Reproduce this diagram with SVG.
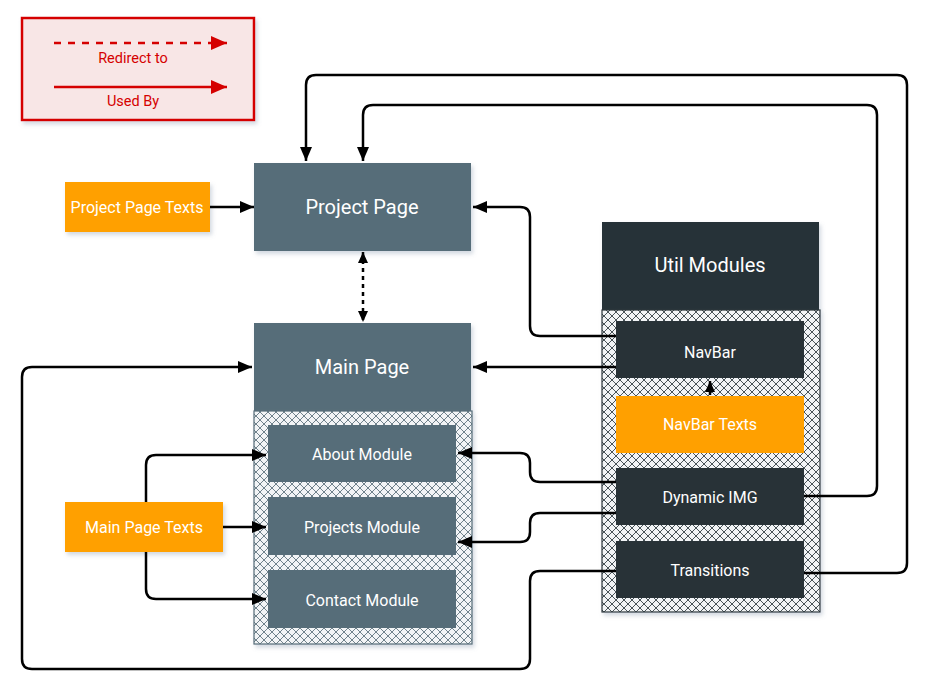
<svg xmlns="http://www.w3.org/2000/svg" width="926" height="689" viewBox="0 0 926 689">
<defs>
<style>
.t{font-family:Roboto,"Liberation Sans",sans-serif;fill:#fff;text-anchor:middle;dominant-baseline:central}
.big{font-size:20px}
.mid{font-size:16px}
.leg{font-family:Roboto,"Liberation Sans",sans-serif;fill:#d50000;font-size:14.5px;text-anchor:middle;dominant-baseline:central}
.slate{fill:#566d79}
.dark{fill:#283237}
.orange{fill:#ffa000}
.c{fill:none;stroke:#000;stroke-width:2.5}
</style>
<filter id="sh" x="-10%" y="-10%" width="130%" height="130%">
<feDropShadow dx="2" dy="3" stdDeviation="2" flood-color="#8090a8" flood-opacity="0.35"/>
</filter>
<pattern id="hs" width="8" height="8" patternUnits="userSpaceOnUse">
<rect width="8" height="8" fill="#f2f4f6"/>
<path d="M0,0 L8,8 M8,0 L0,8" stroke="#6f828c" stroke-width="1"/>
</pattern>
<pattern id="hd" width="8" height="8" patternUnits="userSpaceOnUse">
<rect width="8" height="8" fill="#f2f4f6"/>
<path d="M0,0 L8,8 M8,0 L0,8" stroke="#4a5358" stroke-width="1"/>
</pattern>
<marker id="a" viewBox="0 0 14 12" refX="14" refY="6" markerWidth="14" markerHeight="12" markerUnits="userSpaceOnUse" orient="auto">
<path d="M0,0 L14,6 L0,12 Z" fill="#000"/>
</marker>
<marker id="as" viewBox="0 0 11 10" refX="11" refY="5" markerWidth="11" markerHeight="10" markerUnits="userSpaceOnUse" orient="auto-start-reverse">
<path d="M0,0 L11,5 L0,10 Z" fill="#000"/>
</marker>
<marker id="ar" viewBox="0 0 16 14" refX="16" refY="7" markerWidth="16" markerHeight="14" markerUnits="userSpaceOnUse" orient="auto">
<path d="M0,0 L16,7 L0,14 Z" fill="#d50000"/>
</marker>
</defs>
<rect width="926" height="689" fill="#fff"/>

<g id="legend">
<rect x="22" y="18" width="232" height="102" fill="#f8e6e6" stroke="#d50000" stroke-width="2.5" filter="url(#sh)"/>
<path d="M54,43 H227" stroke="#d50000" stroke-width="2.5" stroke-dasharray="7,7" fill="none" marker-end="url(#ar)"/>
<text class="leg" x="133" y="58">Redirect to</text>
<path d="M54,87 H227" stroke="#d50000" stroke-width="2.5" fill="none" marker-end="url(#ar)"/>
<text class="leg" x="133" y="101">Used By</text>
</g>

<g id="project-page">
<rect class="slate" x="254" y="163" width="217" height="88" filter="url(#sh)"/>
<text class="t big" x="362" y="207">Project Page</text>
</g>

<g id="project-page-texts">
<rect class="orange" x="65" y="182" width="145" height="50" filter="url(#sh)"/>
<text class="t mid" x="137" y="207">Project Page Texts</text>
</g>

<g id="main-page">
<rect class="slate" x="254" y="323" width="217" height="88" filter="url(#sh)"/>
<text class="t big" x="362" y="367">Main Page</text>
<rect x="254" y="411" width="218" height="233" fill="url(#hs)" stroke="#566d79" stroke-width="1.2" filter="url(#sh)"/>
</g>

<g id="about-module">
<rect class="slate" x="268" y="425" width="188" height="57"/>
<text class="t mid" x="362" y="454">About Module</text>
</g>
<g id="projects-module">
<rect class="slate" x="268" y="497" width="188" height="58"/>
<text class="t mid" x="362" y="527">Projects Module</text>
</g>
<g id="contact-module">
<rect class="slate" x="268" y="570" width="188" height="58"/>
<text class="t mid" x="362" y="600">Contact Module</text>
</g>

<g id="main-page-texts">
<rect class="orange" x="65" y="502" width="158" height="50" filter="url(#sh)"/>
<text class="t mid" x="144" y="527">Main Page Texts</text>
</g>

<g id="util-modules">
<rect class="dark" x="602" y="222" width="217" height="88" filter="url(#sh)"/>
<text class="t big" x="710" y="265">Util Modules</text>
<rect x="602" y="310" width="218" height="302" fill="url(#hd)" stroke="#283237" stroke-width="1.2" filter="url(#sh)"/>
</g>

<g id="navbar">
<rect class="dark" x="616" y="321" width="188" height="57"/>
<text class="t mid" x="710" y="352">NavBar</text>
</g>
<g id="navbar-texts">
<rect class="orange" x="616" y="396" width="188" height="57"/>
<text class="t mid" x="710" y="424">NavBar Texts</text>
</g>
<g id="dynamic-img">
<rect class="dark" x="616" y="468" width="188" height="57"/>
<text class="t mid" x="710" y="497">Dynamic IMG</text>
</g>
<g id="transitions">
<rect class="dark" x="616" y="541" width="188" height="57"/>
<text class="t mid" x="710" y="570">Transitions</text>
</g>

<g id="connectors">
<path class="c" d="M210,207 H254" marker-end="url(#a)"/>
<path class="c" d="M363,252 V322" stroke-dasharray="4,4" stroke-width="1.8" marker-start="url(#as)" marker-end="url(#as)"/>
<path class="c" d="M616,336 H540 Q530,336 530,326 V217 Q530,207 520,207 H473" marker-end="url(#a)"/>
<path class="c" d="M616,367 H473" marker-end="url(#a)"/>
<path class="c" d="M710,395 V381" marker-end="url(#as)"/>
<path class="c" d="M616,482 H540 Q530,482 530,472 V463 Q530,453 520,453 H458" marker-end="url(#a)"/>
<path class="c" d="M616,513 H540 Q530,513 530,523 V532 Q530,542 520,542 H458" marker-end="url(#a)"/>
<path class="c" d="M616,571 H540 Q530,571 530,581 V659 Q530,669 520,669 H32 Q22,669 22,659 V377 Q22,367 32,367 H252" marker-end="url(#a)"/>
<path class="c" d="M804,496 H867 Q877,496 877,486 V115 Q877,105 867,105 H373 Q363,105 363,115 V161" marker-end="url(#a)"/>
<path class="c" d="M804,573 H897 Q907,573 907,563 V85 Q907,75 897,75 H316 Q306,75 306,85 V161" marker-end="url(#a)"/>
<path class="c" d="M146,502 V465 Q146,455 156,455 H266" marker-end="url(#a)"/>
<path class="c" d="M223,527 H266" marker-end="url(#a)"/>
<path class="c" d="M146,552 V589 Q146,599 156,599 H266" marker-end="url(#a)"/>
</g>
</svg>
